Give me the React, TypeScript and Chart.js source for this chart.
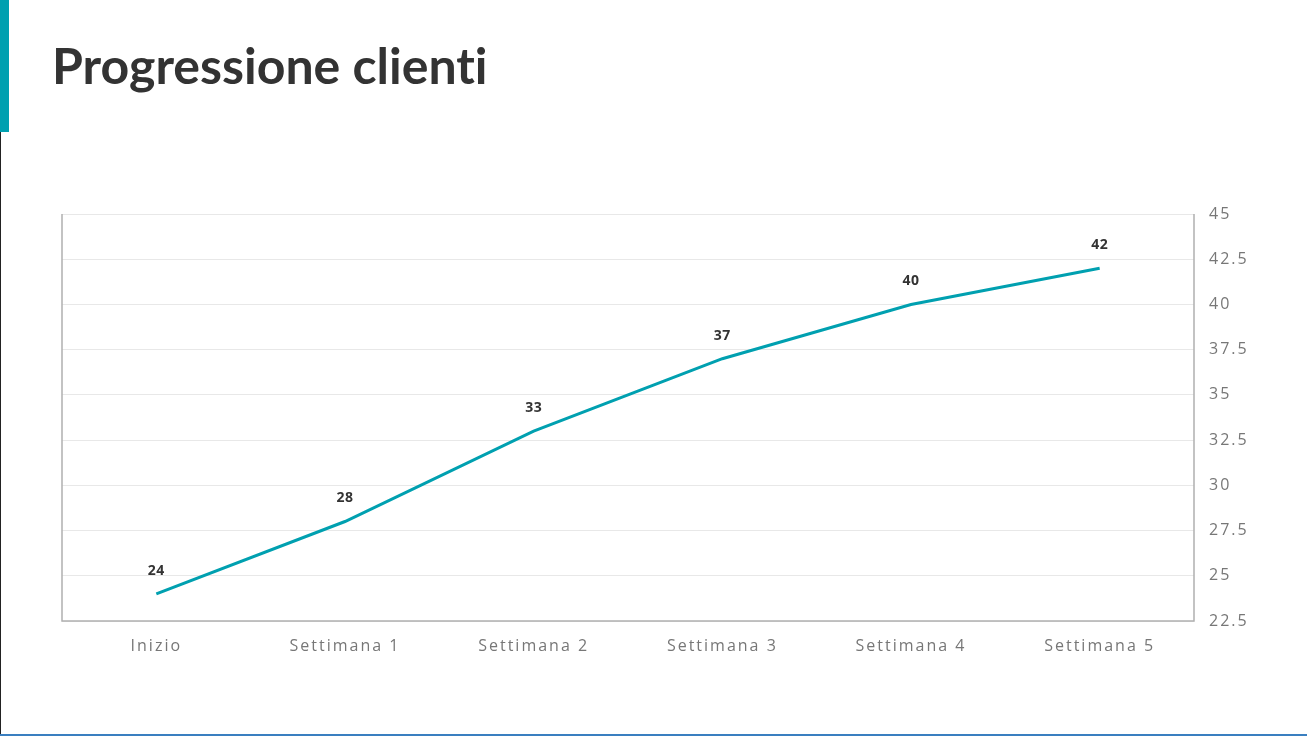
import React, { useEffect, useRef } from "react";
import { Chart, registerables } from "chart.js";

Chart.register(...registerables);

const title = "Progressione clienti";
const categories = ["Inizio", "Settimana 1", "Settimana 2", "Settimana 3", "Settimana 4", "Settimana 5"];
const clienti = [24, 28, 33, 37, 40, 42];
const yMin = 22.5;
const yMax = 45;
const yStep = 2.5;

const TEAL = "#00a0b0";

const frame = {
  id: "frame",
  afterDraw(chart: any) {
    const { ctx, chartArea: a } = chart;
    ctx.save();
    ctx.lineWidth = 1.5;
    ctx.strokeStyle = "#b0b0b0";
    ctx.beginPath();
    ctx.moveTo(a.left, a.top);
    ctx.lineTo(a.left, a.bottom);
    ctx.lineTo(a.right, a.bottom);
    ctx.lineTo(a.right, a.top);
    ctx.stroke();
    ctx.restore();
  },
};

const labels = {
  id: "valueLabels",
  afterDatasetsDraw(chart: any) {
    const { ctx } = chart;
    const meta = chart.getDatasetMeta(0);
    ctx.save();
    (ctx as any).letterSpacing = "0.5px";
    ctx.font = "bold 14px 'Open Sans'";
    ctx.fillStyle = "#333333";
    ctx.textAlign = "center";
    ctx.textBaseline = "middle";
    meta.data.forEach((pt: any, i: number) => {
      ctx.fillText(String(clienti[i]), pt.x, pt.y - 23);
    });
    ctx.restore();
  },
};

const spacing = {
  id: "spacing",
  beforeDraw(chart: any) {
    (chart.ctx as any).letterSpacing = "2px";
  },
};

export default function App() {
  const ref = useRef<HTMLCanvasElement>(null);
  useEffect(() => {
    if (!ref.current) return;
    const chart = new Chart(ref.current, {
      type: "line",
      data: {
        labels: categories,
        datasets: [
          {
            data: clienti,
            borderColor: TEAL,
            borderWidth: 3,
            pointRadius: 0,
            tension: 0,
            fill: false,
          },
        ],
      },
      plugins: [spacing, frame, labels],
      options: {
        animation: false,
        responsive: false,
        layout: { padding: { left: 62, top: 214, right: 53, bottom: 75 } },
        plugins: { legend: { display: false }, tooltip: { enabled: false } },
        scales: {
          x: {
            offset: true,
            grid: { display: false, drawTicks: false },
            border: { display: false },
            ticks: { color: "#777777", font: { family: "'Open Sans'", size: 16 }, padding: 16 },
            afterFit: (s: any) => {
              s.height = 40;
            },
          },
          y: {
            position: "right",
            min: yMin,
            max: yMax,
            grid: { color: "#e8e8e8", drawTicks: false, lineWidth: 1 },
            border: { display: false },
            ticks: {
              stepSize: yStep,
              color: "#777777",
              font: { family: "'Open Sans'", size: 16 },
              padding: 15,
            },
            afterFit: (s: any) => {
              s.width = 60;
            },
          },
        },
      },
    });
    return () => chart.destroy();
  }, []);

  return (
    <div style={{ position: "fixed", left: 0, top: 0, width: 1307, height: 736, background: "#fff", overflow: "hidden" }}>
      <div style={{ position: "absolute", left: 0, top: 0, width: 9, height: 132, background: TEAL }} />
      <div style={{ position: "absolute", left: 0, top: 132, width: 1, height: 604, background: "#222" }} />
      <div style={{ position: "absolute", left: 0, top: 734, width: 1307, height: 2, background: "#3a7fc0" }} />
      <div
        style={{
          position: "absolute",
          left: 52,
          top: 30,
          fontFamily: "Lato, sans-serif",
          fontWeight: 700,
          fontSize: 50,
          color: "#333333",
          lineHeight: "70px",
          whiteSpace: "nowrap",
          fontVariantLigatures: "none",
        }}
      >
        {title}
      </div>
      <canvas ref={ref} width={1307} height={736} style={{ position: "absolute", left: 0, top: 0 }} />
    </div>
  );
}
